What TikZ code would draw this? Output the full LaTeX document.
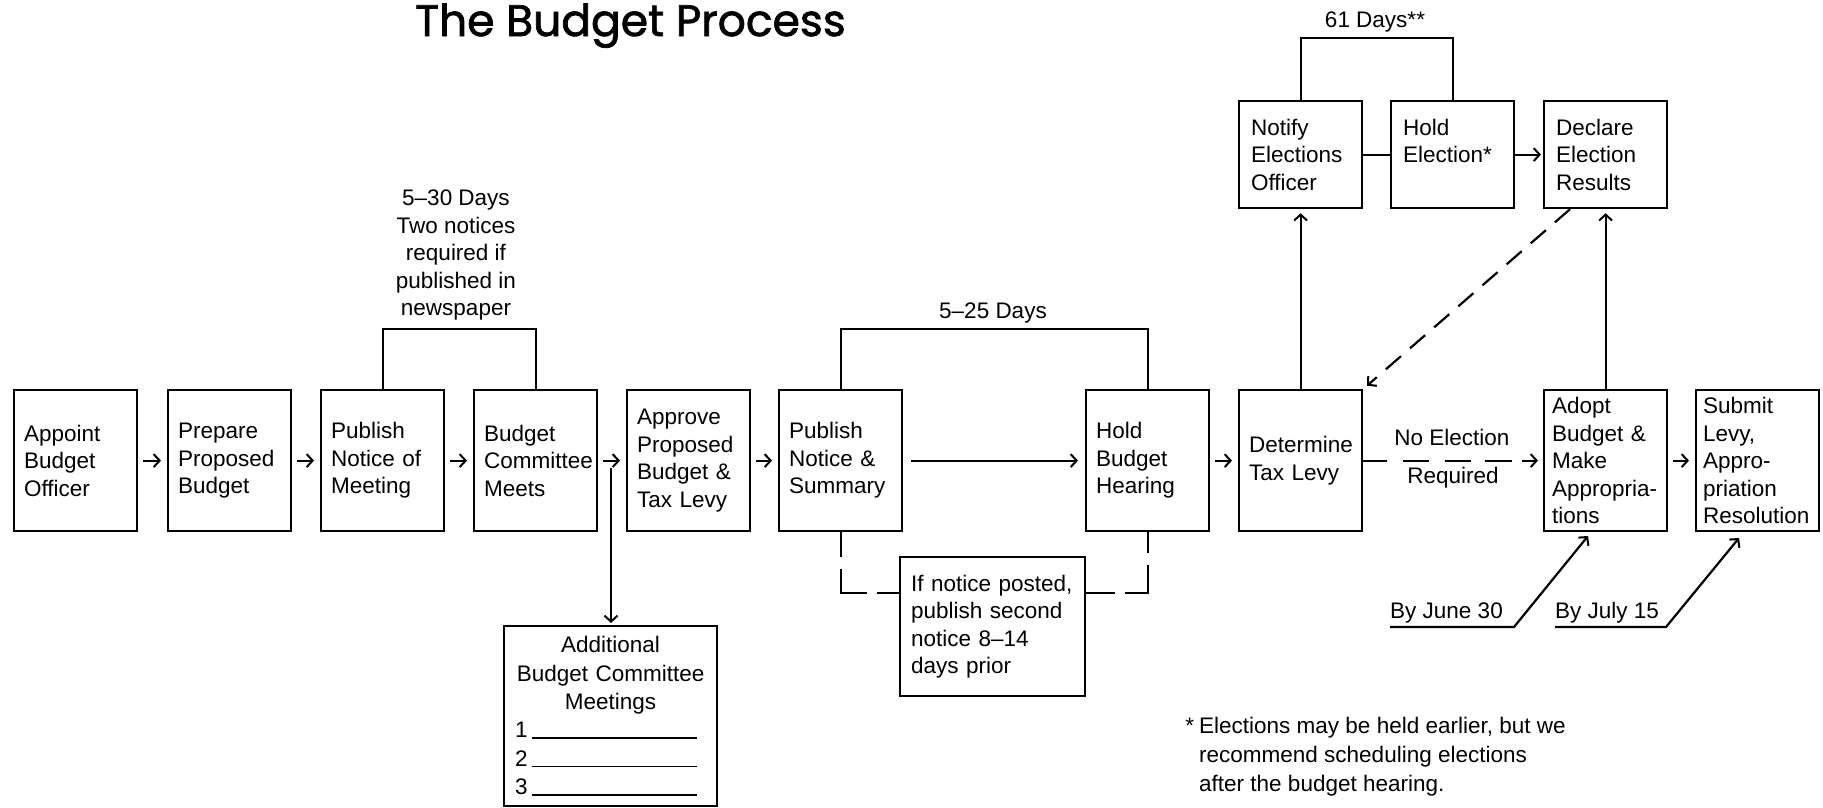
\documentclass[tikz,border=0pt]{standalone}
\usepackage{fontspec}
\setmainfont{Liberation Sans}
\newfontfamily\titlefont[FakeBold=1.6]{Poppins}
\usetikzlibrary{arrows.meta,calc}
\begin{document}
\begin{tikzpicture}[x=1pt,y=-1pt,
  every node/.style={font=\fontsize{22.5}{27.5}\selectfont, execute at begin node={\hyphenpenalty=10000\exhyphenpenalty=10000}},
  ln/.style={line width=2.2pt},
  arr/.style={ln, -{Straight Barb[length=6pt,width=13pt,line width=2pt]}},
  stepbox/.style={draw, ln, minimum width=123pt, minimum height=141pt, text width=103pt, inner xsep=10pt, inner ysep=0pt, align=left, anchor=north west},
  topbox/.style={stepbox, minimum height=107pt, inner xsep=12pt, text width=99pt},
  lbl/.style={inner sep=0pt, align=center}
]
\useasboundingbox (0,0) rectangle (1823,807);
\fill[white] (0,0) rectangle (1823,807);

% title
\node[anchor=base west, inner sep=0pt, font=\titlefont\fontsize{44}{44}\selectfont] (title) at (415,36) {The Budget Process};

% main row
\node[stepbox] (appoint) at (13,389) {Appoint\\Budget\\Officer};
\node[stepbox] (prepare) at (167,389) {Prepare\\Proposed\\Budget};
\node[stepbox] (pubmeet) at (320,389) {Publish\\Notice of\\Meeting};
\node[stepbox] (bcm) at (473,389) {Budget\\Committee\\Meets};
\node[stepbox] (approve) at (626,389) {Approve\\Proposed\\Budget \&\\Tax Levy};
\node[stepbox] (pubsum) at (778,389) {Publish\\Notice \&\\Summary};
\node[stepbox] (hearing) at (1085,389) {Hold\\Budget\\Hearing};
\node[stepbox] (levy) at (1238,389) {Determine\\Tax Levy};
\node[stepbox, inner xsep=8pt, text width=107pt] (adopt) at (1543,389) {Adopt\\Budget \&\\Make\\Appropria-\\tions};
\node[stepbox, inner xsep=7pt, text width=109pt] (submit) at (1695,389) {Submit\\Levy,\\Appro-\\priation\\Resolution};

% top row
\node[topbox] (notify) at (1238,100) {Notify\\Elections\\Officer};
\node[topbox] (holdel) at (1390,100) {Hold\\Election*\\\mbox{}};
\node[topbox] (declare) at (1543,100) {Declare\\Election\\Results};

% additional meetings
\node[draw, ln, anchor=north west, minimum width=213pt, minimum height=180pt, text width=191pt, inner xsep=11pt, inner ysep=0pt, align=center, font=\fontsize{22.5}{28.4}\selectfont] (addl) at (503,625)
  {Additional\\Budget Committee\\Meetings\\
   \makebox[191pt][l]{1\hspace{4pt}\rule[-1pt]{165pt}{1.8pt}}\\
   \makebox[191pt][l]{2\hspace{4pt}\rule[-1pt]{165pt}{1.8pt}}\\
   \makebox[191pt][l]{3\hspace{4pt}\rule[-1pt]{165pt}{1.8pt}}};

% if notice box
\node[draw, ln, anchor=north west, minimum width=185pt, minimum height=139pt, text width=163pt, inner xsep=11pt, inner ysep=0pt, align=left] (ifnot) at (899,556)
  {\mbox{If notice posted,}\\\mbox{publish second}\\\mbox{notice 8–14}\\\mbox{days prior}};

% labels
\node[lbl] (lab530) at (456,255) {5–30 Days\\Two notices\\required if\\published in\\newspaper};
\node[lbl] (lab525) at (993,313) {5–25 Days};
\node[lbl] (lab61) at (1375,22) {61 Days**};
\node[lbl] (noel) at (1452,437) {No Election};
\node[lbl] (req) at (1453,478) {Required};
\node[lbl, anchor=base west] (june) at (1390,618) {By June 30};
\node[lbl, anchor=base west] (july) at (1555,618) {By July 15};
\node[anchor=north west, align=left, inner sep=0pt, font=\fontsize{22.5}{29}\selectfont] (note) at (1199,717)
  {\llap{*\hspace{5pt}}Elections may be held earlier, but we\\recommend scheduling elections\\after the budget hearing.};

% short arrows
\foreach \a/\b in {appoint/prepare, prepare/pubmeet, pubmeet/bcm, bcm/approve, approve/pubsum, hearing/levy, adopt/submit}
  \draw[arr, shorten <=5pt, shorten >=6pt] (\a.east) -- (\b.west);
\draw[arr, shorten <=8pt, shorten >=7pt] (pubsum.east) -- (hearing.west);

% to additional
\coordinate (split) at (611,468);
\draw[arr, shorten >=2pt] (split) -- (split |- addl.north);

% brackets
\draw[ln] (pubmeet.north) -- ++(0,-60) -| (bcm.north);
\draw[ln] (pubsum.north) -- ++(0,-60) -| (hearing.north);
\draw[ln] (notify.north) -- ++(0,-62) -| (holdel.north);

% dashed bracket below
\draw[ln, dash pattern=on 25pt off 12pt on 50pt off 10pt on 40pt] (pubsum.south) |- ([yshift=-37pt]ifnot.north west);
\draw[ln, dash pattern=on 29pt off 10pt on 50pt off 12pt on 40pt] ([yshift=-37pt]ifnot.north east) -| (hearing.south);

% no election
\draw[arr, dash pattern=on 24pt off 16pt on 26pt off 16pt on 26pt off 14pt on 27pt off 10pt on 60pt, shorten >=5pt] (levy.east) -- (adopt.west);

% election branch
\draw[arr, shorten >=4pt] (levy.north) -- (notify.south);
\draw[ln] (notify.east) -- (holdel.west);
\draw[arr, shorten >=2pt] (holdel.east) -- (declare.west);
\draw[arr, shorten >=4pt] (adopt.north) -- (declare.south);
\coordinate (dstart) at ($(declare.south west)+(27,0)$);
\draw[arr, dash pattern=on 20pt off 12pt, shorten >=5pt] (dstart) -- (levy.north east);

% deadlines
\coordinate (j1) at (1390,627);
\coordinate (j2) at (1514,627);
\coordinate (jt) at (1588,536);
\draw[arr] (j1) -- (j2) -- (jt);
\coordinate (k1) at (1555,627);
\coordinate (k2) at (1666,627);
\coordinate (kt) at (1739,538);
\draw[arr] (k1) -- (k2) -- (kt);
\end{tikzpicture}
\end{document}
